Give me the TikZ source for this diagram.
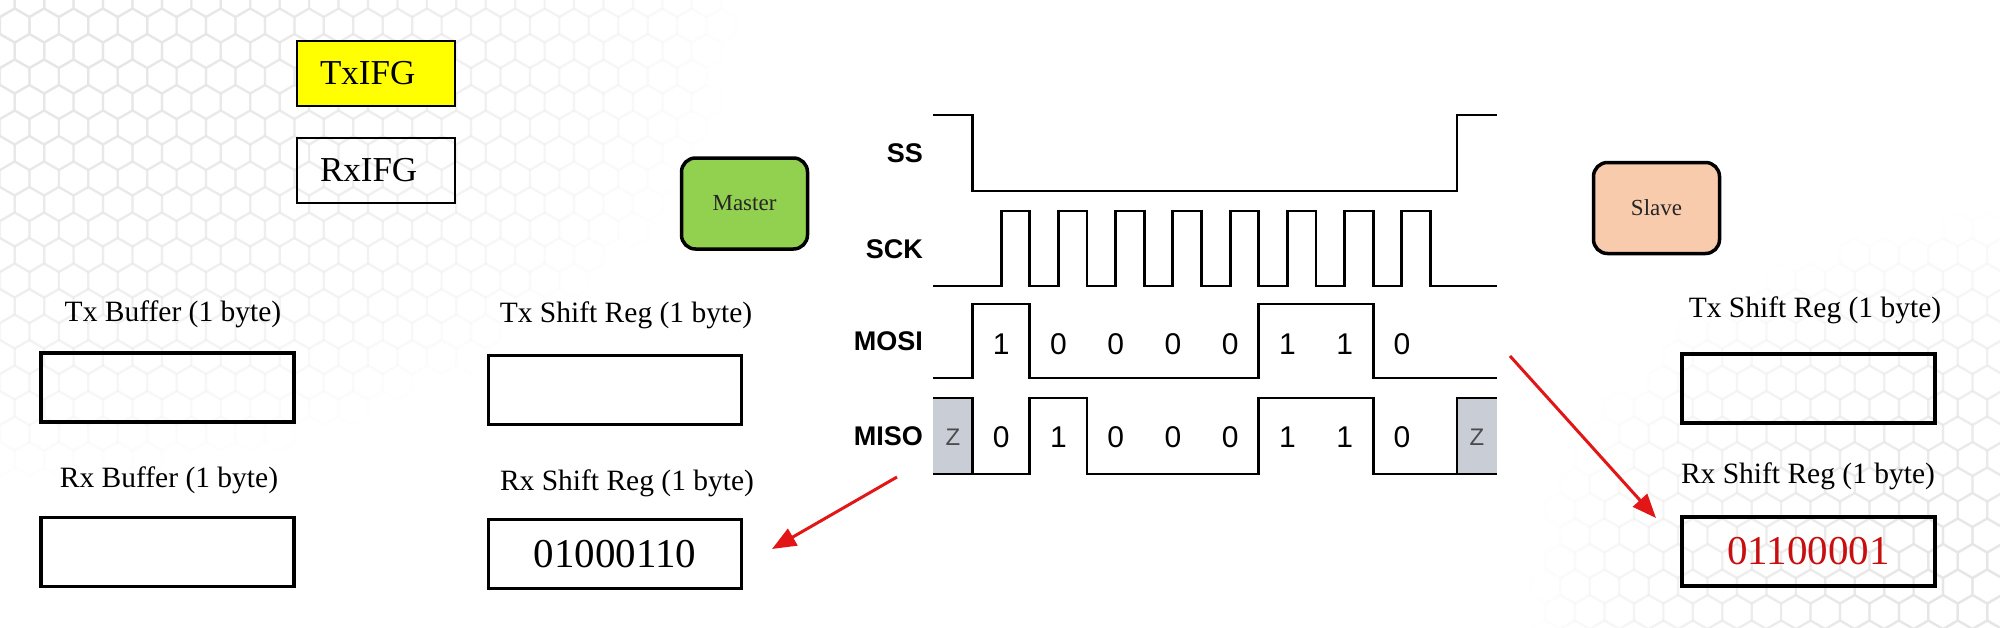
\documentclass[tikz,border=0pt]{standalone}
\usepackage{fontspec}
\setmainfont{Liberation Serif}
\newfontfamily\helvfont{Liberation Sans}
\usetikzlibrary{arrows.meta}

\definecolor{flagyellow}{RGB}{255,255,0}
\definecolor{mastergreen}{RGB}{146,208,80}
\definecolor{slavepeach}{RGB}{248,203,173}
\definecolor{zgray}{RGB}{201,205,214}
\definecolor{arrowred}{RGB}{226,22,22}
\definecolor{bitred}{RGB}{200,14,14}
\definecolor{hexgray}{RGB}{230,230,230}

\tikzset{
  flagbox/.style={draw, line width=1.6pt, minimum height=65pt, text width=112pt,
    align=left, inner xsep=23pt, font=\fontsize{35}{40}\selectfont},
  regbox/.style={draw, line width=3.3pt, minimum width=253pt, minimum height=69pt,
    font=\fontsize{41}{46}\selectfont},
  reglabel/.style={anchor=base, font=\fontsize{29.5}{34}\selectfont},
  unitbox/.style={draw, line width=3.5pt, rounded corners=14pt, minimum width=126pt,
    minimum height=91pt, text=black!85, font=\fontsize{23}{28}\selectfont},
  siglabel/.style={anchor=east, inner xsep=0pt, font=\helvfont\bfseries\fontsize{27}{32}\selectfont},
  bit/.style={font=\helvfont\fontsize{30}{36}\selectfont},
  zbit/.style={text=black!70, font=\helvfont\fontsize{24}{28}\selectfont},
  wave/.style={line width=2.8pt, line join=miter},
  rxarrow/.style={line width=3pt, arrowred, -{Triangle[length=24pt,width=19pt]}},
  hexline/.style={hexgray, line width=2.2pt}
}

\begin{document}
\begin{tikzpicture}[x=1pt, y=-1pt]
  \useasboundingbox (0,0) rectangle (2000,627);
  \fill[white] (0,0) rectangle (2000,627);

  % faint honeycomb, fading out from the top left and bottom right corners
  \foreach \row in {0,...,25} {
    \foreach \col in {0,...,68} {
      \pgfmathsetmacro\hx{\col*29.44 + mod(\row,2)*14.72}
      \pgfmathsetmacro\hy{\row*25.5}
      \pgfmathsetmacro\hop{max(0, 1 - veclen(\hx/740, \hy/480),
                                  1 - veclen((2000-\hx)/470, (627-\hy)/410))}
      \ifdim\hop pt>0.02pt
        \draw[hexline, draw opacity=\hop]
          (\hx,\hy) +(30:17) -- +(90:17) -- +(150:17) -- +(210:17) -- +(270:17) -- +(330:17) -- cycle;
      \fi
    }
  }

  % interrupt flags
  \node[flagbox, fill=flagyellow] (txifg) at (376,73.5) {TxIFG};
  \node[flagbox] (rxifg) at (376,170.5) {RxIFG};

  % master and slave
  \node[unitbox, fill=mastergreen] (master) at (744.5,203.5) {Master};
  \node[unitbox, fill=slavepeach] (slave) at (1656.5,208) {Slave};

  % master buffers and shift registers
  \node[reglabel] (txbuflbl) at (173,321) {Tx Buffer (1 byte)};
  \node[regbox] (txbuf) at (167.5,387.5) {};
  \node[reglabel] (rxbuflbl) at (169,487) {Rx Buffer (1 byte)};
  \node[regbox] (rxbuf) at (167.5,552) {};

  \node[reglabel] (mtxlbl) at (626,322) {Tx Shift Reg (1 byte)};
  \node[regbox] (mtx) at (615,390) {};
  \node[reglabel] (mrxlbl) at (627,490) {Rx Shift Reg (1 byte)};
  \node[regbox] (mrx) at (615,554) {01000110};

  % slave shift registers
  \node[reglabel] (stxlbl) at (1815,317) {Tx Shift Reg (1 byte)};
  \node[regbox] (stx) at (1808.5,388.5) {};
  \node[reglabel] (srxlbl) at (1808,483) {Rx Shift Reg (1 byte)};
  \node[regbox, text=bitred] (srx) at (1808.5,551.5) {01100001};

  % signal names
  \node[siglabel] (sslbl) at (923,153) {SS};
  \node[siglabel] (scklbl) at (923,249) {SCK};
  \node[siglabel] (mosilbl) at (923,341) {MOSI};
  \node[siglabel] (misolbl) at (923,436) {MISO};

  % SS
  \draw[wave] (933,115) -- (972.5,115) -- (972.5,191) -- (1457,191) -- (1457,115) -- (1497,115);

  % SCK, eight pulses
  \draw[wave] (933,286) foreach \k in {0,...,7} {
      -- ({1001.1+57.25*\k},286) -- ({1001.1+57.25*\k},211)
      -- ({1029.75+57.25*\k},211) -- ({1029.75+57.25*\k},286) } -- (1497,286);

  % MOSI
  \draw[wave] (933,378) -- (972.5,378) -- (972.5,304) -- (1029.75,304) -- (1029.75,378)
    -- (1258.75,378) -- (1258.75,304) -- (1373.25,304) -- (1373.25,378) -- (1497,378);

  % MISO, high-Z at both ends
  \fill[zgray] (933,398) rectangle (972.5,474);
  \fill[zgray] (1457,398) rectangle (1497,474);
  \draw[wave] (933,398) -- (972.5,398) -- (972.5,474) -- (1029.75,474) -- (1029.75,398)
    -- (1087,398) -- (1087,474) -- (1258.75,474) -- (1258.75,398) -- (1373.25,398)
    -- (1373.25,474) -- (1457,474) -- (1457,398) -- (1497,398);
  \draw[wave] (933,474) -- (972.5,474);
  \draw[wave] (1457,474) -- (1497,474);

  % bit values
  \foreach \b [count=\k from 0] in {1,0,0,0,0,1,1,0}
    \node[bit] (mosi\k) at ({1001.1+57.25*\k},344) {\b};
  \foreach \b [count=\k from 0] in {0,1,0,0,0,1,1,0}
    \node[bit] (miso\k) at ({1001.1+57.25*\k},437.5) {\b};
  \node[zbit] (zin) at (953,437) {Z};
  \node[zbit] (zout) at (1477,437) {Z};

  % received bytes
  \coordinate (misoout) at (897,477);
  \coordinate (mrxin) at (772,549);
  \draw[rxarrow] (misoout) -- (mrxin);
  \coordinate (mosiout) at (1510,356);
  \coordinate (srxin) at (1656,518);
  \draw[rxarrow] (mosiout) -- (srxin);
\end{tikzpicture}
\end{document}
